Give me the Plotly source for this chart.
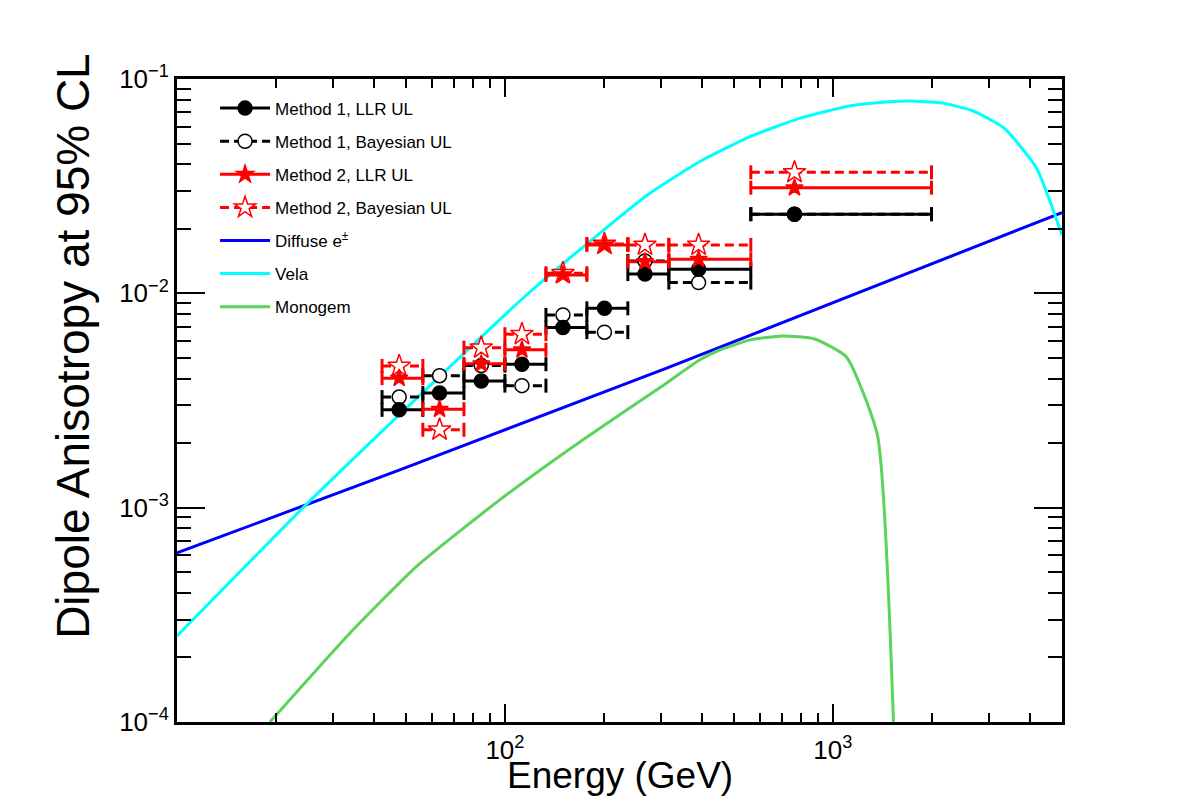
import math
import plotly.graph_objects as go

# ---------------- data ----------------
bin_lo = [42.2, 56.2, 75.0, 100.0, 133.4, 177.8, 237.1, 316.2, 562.3]
bin_hi = [56.2, 75.0, 100.0, 133.4, 177.8, 237.1, 316.2, 562.3, 2000.0]
energy = [47.6, 63.2, 84.7, 112.7, 150.3, 201.2, 267.4, 389.7, 764.0]

m1_llr = [2.86e-3, 3.43e-3, 3.90e-3, 4.67e-3, 6.92e-3, 8.51e-3, 0.0123, 0.01295, 0.0234]
m1_bayes = [3.28e-3, 4.13e-3, 4.60e-3, 3.71e-3, 7.93e-3, 6.59e-3, 0.01416, 0.01122, 0.0234]
m2_llr = [4.02e-3, 2.88e-3, 4.69e-3, 5.45e-3, 0.01219, 0.01683, 0.01405, 0.01442, 0.0311]
m2_bayes = [4.58e-3, 2.31e-3, 5.58e-3, 6.45e-3, 0.01241, 0.01699, 0.01683, 0.01683, 0.0367]

diffuse_e = [10, 47.8, 310, 5000]
diffuse_a = [6.15e-4, 1.50e-3, 4.47e-3, 0.0238]

vela_e = [10, 25.1, 50.6, 114.8, 194.5, 276, 392, 557, 791, 1124,
          1489, 1714, 2140, 2673, 3334, 4169, 5000]
vela_a = [2.52e-4, 1.054e-3, 2.96e-3, 9.64e-3, 0.01905, 0.0292,
          0.0411, 0.0537, 0.0655, 0.0748, 0.0783, 0.0789, 0.0774, 0.0711, 0.0589,
          0.0387, 0.0187]

monogem_e = [19.2, 33.6, 53.7, 96.4, 172.6, 310, 393, 452, 557, 703, 880, 1100, 1368, 1531]
monogem_a = [1.0e-4, 2.59e-4, 5.31e-4, 1.087e-3, 2.07e-3, 3.80e-3, 4.90e-3, 5.44e-3,
             6.05e-3, 6.33e-3, 6.12e-3, 5.05e-3, 2.18e-3, 1.0e-4]

x_tick_vals = [100, 1000]
x_tick_text = ["10<sup>2</sup>", "10<sup>3</sup>"]
y_tick_vals = [1e-4, 1e-3, 1e-2, 1e-1]
y_tick_text = ["10<sup>\u22124</sup>", "10<sup>\u22123</sup>", "10<sup>\u22122</sup>", "10<sup>\u22121</sup>"]

FONT = "Liberation Sans, Arial, Helvetica, sans-serif"
DASH = "9px,5px"

fig = go.Figure()

# ---------------- model curves ----------------
curves = [
    ("Diffuse e<sup>\u00b1</sup>", diffuse_e, diffuse_a, "#0000ff", 5, "linear"),
    ("Vela", vela_e, vela_a, "#00ffff", 6, "spline"),
    ("Monogem", monogem_e, monogem_a, "#5ad45a", 7, "spline"),
]
for name, xe, ya, col, rank, shape in curves:
    line = dict(color=col, width=3, shape=shape)
    if shape == "spline":
        line["smoothing"] = 0.5
    fig.add_trace(go.Scatter(
        x=xe, y=ya, mode="lines", name=name, line=line,
        legendgroup=name, legendrank=rank,
    ))

# ---------------- data points ----------------
series = [
    # name, values, color, dash, symbol, fill, marker size, rank
    ("Method 1, LLR UL", m1_llr, "black", "solid", "circle", "black", 14, 1),
    ("Method 1, Bayesian UL", m1_bayes, "black", DASH, "circle", "white", 14, 2),
    ("Method 2, LLR UL", m2_llr, "red", "solid", "star", "red", 13, 3),
    ("Method 2, Bayesian UL", m2_bayes, "red", DASH, "star", "white", 17, 4),
]

# horizontal bars with end caps
for name, vals, col, dash, sym, fill, ms, rank in series:
    xs, ys = [], []
    for lo, hi, v in zip(bin_lo, bin_hi, vals):
        xs += [lo, hi, None]
        ys += [v, v, None]
    fig.add_trace(go.Scatter(
        x=xs, y=ys, mode="lines+markers", showlegend=False, connectgaps=False,
        line=dict(color=col, width=3, dash=dash),
        marker=dict(symbol="line-ns", size=10, color=col,
                    line=dict(color=col, width=3)),
        hoverinfo="skip",
    ))

# markers (drawn in an order that keeps the filled markers visible)
draw_order = [1, 0, 3, 2]
for i in draw_order:
    name, vals, col, dash, sym, fill, ms, rank = series[i]
    xs, ys = [], []
    for e, v in zip(energy, vals):
        xs += [e, None]
        ys += [v, None]
    fig.add_trace(go.Scatter(
        x=xs, y=ys, mode="lines+markers", name=name, connectgaps=False,
        line=dict(color=col, width=3, dash=dash),
        marker=dict(symbol=sym, size=ms, color=fill,
                    line=dict(color=col, width=1.5)),
        legendgroup=name, legendrank=rank,
    ))

# ---------------- layout ----------------
x_minor = [m * 10 ** d for d in (1, 2, 3) for m in range(2, 10) if m * 10 ** d < 5000]
y_minor = [m * 10.0 ** d for d in (-4, -3, -2) for m in range(2, 10)]

fig.update_layout(
    width=1182, height=803,
    margin=dict(l=177, r=120, t=79, b=81),
    paper_bgcolor="white", plot_bgcolor="white",
    font=dict(family=FONT, color="black"),
    showlegend=True,
    legend=dict(
        x=0.043, y=0.982, xanchor="left", yanchor="top",
        bgcolor="rgba(0,0,0,0)", borderwidth=0,
        font=dict(family=FONT, size=17, color="black"),
        itemwidth=50, tracegroupgap=8,
    ),
    xaxis=dict(
        type="log", range=[1, math.log10(5000)],
        tickmode="array", tickvals=x_tick_vals, ticktext=x_tick_text,
        ticks="inside", ticklen=18, tickwidth=2, tickcolor="black",
        showline=True, linewidth=3, linecolor="black", mirror="ticks",
        showgrid=False, zeroline=False,
        tickfont=dict(family=FONT, size=26, color="black"),
        ticklabelstandoff=3,
        minor=dict(tickmode="array", tickvals=x_minor, ticks="inside",
                   ticklen=9, tickwidth=2, tickcolor="black", showgrid=False),
    ),
    yaxis=dict(
        type="log", range=[-4, -1],
        tickmode="array", tickvals=y_tick_vals, ticktext=y_tick_text,
        ticks="inside", ticklen=28, tickwidth=2, tickcolor="black",
        showline=True, linewidth=3, linecolor="black", mirror="ticks",
        showgrid=False, zeroline=False,
        tickfont=dict(family=FONT, size=26, color="black"),
        minor=dict(tickmode="array", tickvals=y_minor, ticks="inside",
                   ticklen=14, tickwidth=2, tickcolor="black", showgrid=False),
    ),
    annotations=[
        dict(text="Energy (GeV)", xref="paper", yref="paper", x=0.5, y=-0.083,
             xanchor="center", yanchor="middle", showarrow=False,
             font=dict(family=FONT, size=37, color="black")),
        dict(text="Dipole Anisotropy at 95% CL", xref="paper", yref="paper",
             x=-0.1175, y=0.585, xanchor="center", yanchor="middle",
             textangle=-90, showarrow=False,
             font=dict(family=FONT, size=46, color="black")),
    ],
)

fig.write_html("out.html")
